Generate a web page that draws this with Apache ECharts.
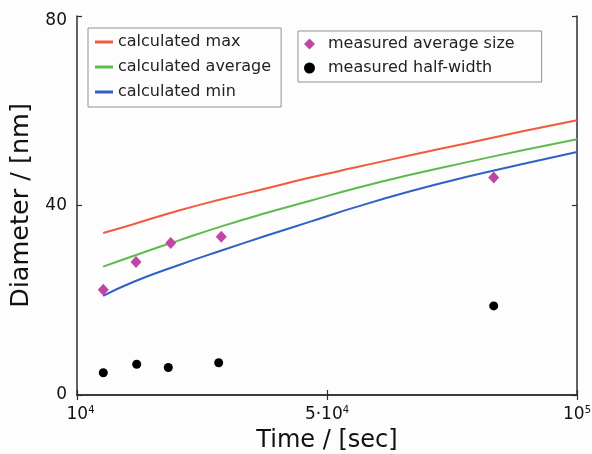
<!DOCTYPE html>
<html>
<head>
<meta charset="utf-8">
<script src="https://cdn.jsdelivr.net/npm/echarts@6/dist/echarts.min.js"></script>
<style>
html,body{margin:0;padding:0;background:#fdfdfe;}
#chart{width:592px;height:454px;}
</style>
</head>
<body>
<div id="chart"></div>
<script>
// ---- data ----
var lineTime = [14700, 20000, 28500, 36000, 44000, 52000, 60000, 70000, 80000, 90000, 100000];
var calcMax  = [34.2, 36.0, 39.0, 41.3, 43.6, 45.9, 48.0, 50.6, 53.1, 55.6, 58.0];
var calcAvg  = [27.1, 29.3, 32.7, 35.6, 38.4, 41.0, 43.6, 46.5, 49.1, 51.6, 54.0];
var calcMin  = [20.9, 23.8, 27.5, 30.5, 33.6, 36.6, 39.6, 43.0, 46.0, 48.7, 51.3];
var avgTime  = [14734, 20620, 26866, 35974, 85006];
var avgSize  = [22.2, 28.1, 32.1, 33.4, 45.9];
var hwTime   = [14734, 20746, 26434, 35506, 85006];
var halfWidth= [4.7, 6.5, 5.8, 6.8, 18.8];
var xTicks   = [10000, 55000, 100000];
var xTickLabels = ['{f|10}{s|4}', '{b|5·10}{s|4}', '{b|10}{s|5}'];

var FONT = 'DejaVu Sans';
var frameColor = '#2a2f33';

function pairs(xs, ys){ return xs.map(function(x,i){ return [x, ys[i]]; }); }

var chart = echarts.init(document.getElementById('chart'), null, {renderer:'canvas'});
var axisCommon = {
  axisLine:{show:true, lineStyle:{color:frameColor, width:1.5}},
  axisTick:{show:true, inside:true, length:5, lineStyle:{color:frameColor, width:1.2}},
  splitLine:{show:false}
};
chart.setOption({
  backgroundColor:'#fdfdfe',
  animation:false,
  grid:{left:77, right:15, top:16, bottom:59, containLabel:false, outerBoundsMode:'none'},
  xAxis:[
    Object.assign({}, axisCommon, {
      type:'value', min:10000, max:100000, position:'bottom',
      axisTick:Object.assign({}, axisCommon.axisTick, {customValues:xTicks}),
      axisLabel:{customValues:xTicks, margin:10, color:'#111',
        formatter:function(v){ return xTickLabels[xTicks.indexOf(v)] || ''; },
        rich:{b:{fontFamily:FONT, fontSize:17, color:'#111', lineHeight:20},
              f:{fontFamily:FONT, fontSize:17, color:'#111', lineHeight:20, padding:[0,0,0,7]},
              s:{fontFamily:FONT, fontSize:10, color:'#111', lineHeight:12, verticalAlign:'top'}}},
      name:'Time / [sec]', nameLocation:'middle', nameGap:33,
      nameTextStyle:{fontFamily:FONT, fontSize:24, color:'#111'}
    }),
    Object.assign({}, axisCommon, {
      type:'value', min:10000, max:100000, position:'top',
      axisTick:Object.assign({}, axisCommon.axisTick, {customValues:xTicks}),
      axisLabel:{show:false}
    })
  ],
  yAxis:[
    Object.assign({}, axisCommon, {
      type:'value', min:0, max:80, interval:40, position:'left',
      axisLabel:{margin:10, color:'#111',
        formatter:function(v){ return v === 80 ? '{t|' + v + '}' : '{n|' + v + '}'; },
        rich:{n:{fontFamily:FONT, fontSize:17, color:'#111'},
              t:{fontFamily:FONT, fontSize:17, color:'#111', padding:[9,0,0,0]}}},
      name:'Diameter / [nm]', nameLocation:'middle', nameGap:38,
      nameTextStyle:{fontFamily:FONT, fontSize:25.5, color:'#111'}
    }),
    Object.assign({}, axisCommon, {
      type:'value', min:0, max:80, interval:40, position:'right',
      axisLabel:{show:false}
    })
  ],
  legend:[
    {
      data:[{name:'calculated max', icon:'rect'},{name:'calculated average', icon:'rect'},{name:'calculated min', icon:'rect'}],
      orient:'vertical', left:88, top:28, itemWidth:18, itemHeight:3, itemGap:5,
      padding:[4,10,5,7], borderColor:'#8a9398', borderWidth:1, backgroundColor:'#fdfdfe',
      textStyle:{fontFamily:FONT, fontSize:16, color:'#222', lineHeight:20}
    },
    {
      data:[{name:'measured average size', icon:'diamond', itemStyle:{color:'#c045a5', opacity:1}},
            {name:'measured half-width', icon:'circle', itemStyle:{color:'#000', opacity:1}}],
      orient:'vertical', left:298, top:31, itemWidth:11, itemHeight:11, itemGap:4,
      padding:[3,27,4,6], borderColor:'#8a9398', borderWidth:1, backgroundColor:'#fdfdfe',
      textStyle:{fontFamily:FONT, fontSize:16, color:'#222', lineHeight:20, padding:[0,0,0,8]}
    }
  ],
  series:[
    {name:'calculated max', type:'line', data:pairs(lineTime, calcMax), smooth:true, showSymbol:false, lineStyle:{color:'#f25a3c', width:2}, itemStyle:{color:'#f25a3c'}},
    {name:'calculated average', type:'line', data:pairs(lineTime, calcAvg), smooth:true, showSymbol:false, lineStyle:{color:'#5dbb4e', width:2}, itemStyle:{color:'#5dbb4e'}},
    {name:'calculated min', type:'line', data:pairs(lineTime, calcMin), smooth:true, showSymbol:false, lineStyle:{color:'#2f62c2', width:2}, itemStyle:{color:'#2f62c2'}},
    {name:'measured average size', type:'scatter', data:pairs(avgTime, avgSize), symbol:'diamond', symbolSize:[11,12], itemStyle:{color:'#c045a5', opacity:1}, z:5},
    {name:'measured half-width', type:'scatter', data:pairs(hwTime, halfWidth), symbol:'circle', symbolSize:9, itemStyle:{color:'#000', opacity:1}, z:5}
  ]
});
</script>
</body>
</html>
